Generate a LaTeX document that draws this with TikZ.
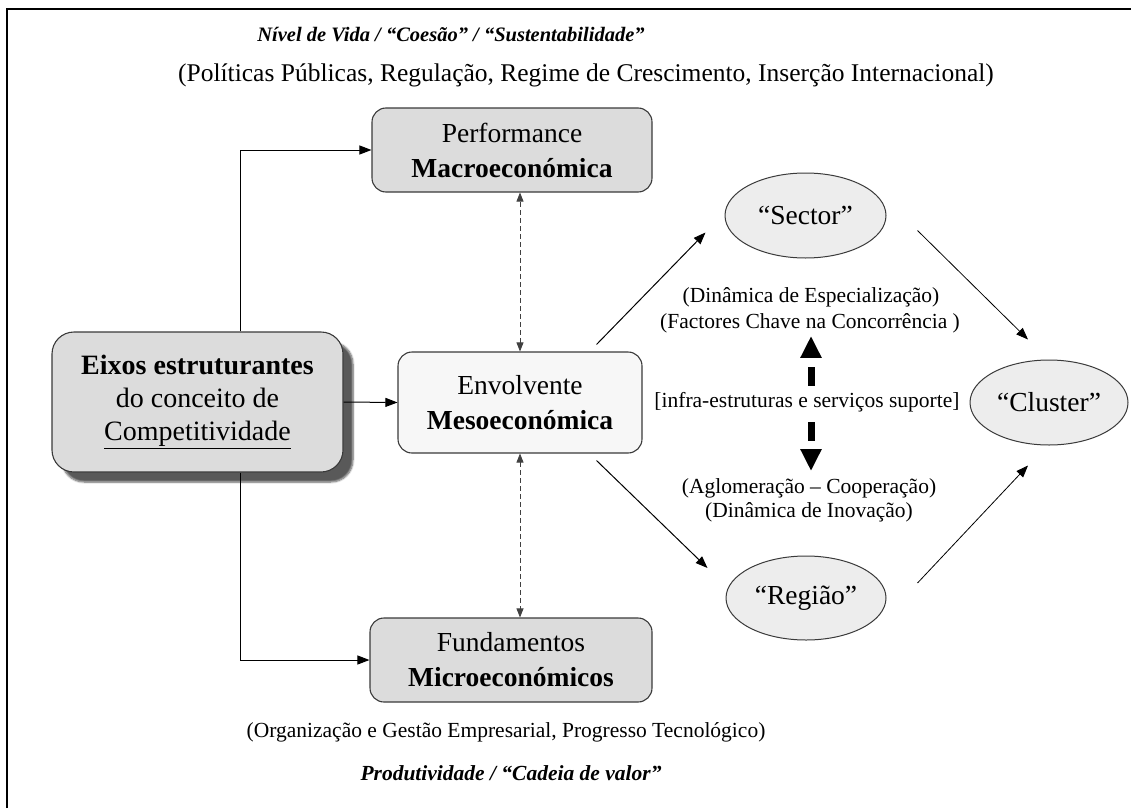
\documentclass[tikz,border=0pt]{standalone}
\usepackage{fontspec}
\setmainfont{Liberation Serif}
\usetikzlibrary{arrows.meta,shapes.geometric,shadows.blur}

\definecolor{boxgray}{HTML}{DCDCDC}
\definecolor{palegray}{HTML}{F7F7F7}
\definecolor{ovalgray}{HTML}{EDEDED}
\definecolor{edgegray}{HTML}{3A3A3A}

\tikzset{
  bigtext/.style={font=\fontsize{27.5}{35}\selectfont},
  smalltext/.style={font=\fontsize{21.5}{26}\selectfont, inner sep=0pt},
  headtext/.style={font=\fontsize{20.5}{26}\bfseries\itshape\selectfont, inner sep=0pt},
  panel/.style={draw=edgegray, line width=1.1pt, rounded corners=14pt, align=center,
    inner sep=0pt, bigtext},
  oval/.style={ellipse, draw=edgegray, line width=1pt, fill=ovalgray, inner sep=0pt, bigtext},
  link/.style={-{Triangle[length=12pt,width=9pt]}, line width=1pt},
  thinlink/.style={-{Triangle[length=12pt,width=9pt]}, line width=0.8pt},
  dashlink/.style={{Triangle[length=9pt,width=7pt]}-{Triangle[length=9pt,width=7pt]},
    line width=0.8pt, draw=black!75, dash pattern=on 5pt off 3pt},
  fatlink/.style={-{Triangle[length=22pt,width=20pt]}, line width=7pt,
    dash pattern=on 19pt off 30pt},
}

\begin{document}
\begin{tikzpicture}[x=1pt,y=-1pt]
\useasboundingbox (0,0) rectangle (1131,808);

% frame along the top and left edges
\draw[line width=2.4pt, line join=miter] (7,808) -- (7,9) -- (1131,9);

% headings
\node[headtext] (vida) at (451,35) {Nível de Vida / “Coesão” / “Sustentabilidade”};
\node[smalltext, font=\fontsize{25.5}{30}\selectfont] (politicas) at (586,75)
  {(Políticas Públicas, Regulação, Regime de Crescimento, Inserção Internacional)};

% central column
\node[panel, fill=boxgray, minimum width=291pt, minimum height=140pt, rounded corners=22pt,
      font=\fontsize{28}{33}\selectfont,
      blur shadow={shadow xshift=10pt, shadow yshift=-10pt, shadow opacity=65, shadow blur steps=6}]
  (eixos) at (197.5,402)
  {\textbf{Eixos estruturantes}\\do conceito de\\\underline{Competitividade}};
\node[panel, fill=boxgray, minimum width=280pt, minimum height=84pt] (perf) at (512,150)
  {Performance\\\textbf{Macroeconómica}};
\node[panel, fill=palegray, minimum width=244pt, minimum height=101pt] (env) at (520,402.5)
  {Envolvente\\\textbf{Mesoeconómica}};
\node[panel, fill=boxgray, minimum width=282pt, minimum height=84pt] (fund) at (511,660)
  {Fundamentos\\\textbf{Microeconómicos}};

% footer texts
\node[smalltext] (org) at (506,732)
  {(Organização e Gestão Empresarial, Progresso Tecnológico)};
\node[headtext, font=\fontsize{21.5}{26}\bfseries\itshape\selectfont] (prod) at (511,773)
  {Produtividade / “Cadeia de valor”};

% ovals
\node[oval, minimum width=161pt, minimum height=85pt] (sector) at (805.5,215.5) {“Sector”};
\node[oval, minimum width=158pt, minimum height=85pt] (cluster) at (1049,402.5) {“Cluster”};
\node[oval, minimum width=160pt, minimum height=84pt] (regiao) at (806,598) {“Região”};

% middle texts
\node[smalltext] (espec) at (811,297) {(Dinâmica de Especialização)};
\node[smalltext] (fact) at (810,323) {(Factores Chave na Concorrência )};
\node[smalltext] (infra) at (807,402) {[infra-estruturas e serviços suporte]};
\node[smalltext] (aglom) at (809,488) {(Aglomeração – Cooperação)};
\node[smalltext] (inov) at (809,512) {(Dinâmica de Inovação)};

% trunk from the left box
\coordinate (trunk) at (240,402);
\draw[link] (eixos.north -| trunk) |- (perf.west);
\draw[link] (eixos.south -| trunk) |- (fund.west);
\draw[link] (eixos.east) -- (env.west);

% dashed links along the column
\draw[dashlink] (env.north) -- (env.north |- perf.south);
\draw[dashlink] (env.south) -- (env.south |- fund.north);

% links towards the ovals
\draw[link] ([shift={(-46,-7)}]env.north east) -- ([shift={(-19,17)}]sector.west);
\draw[link] ([shift={(-46,7)}]env.south east) -- ([shift={(-18,-30)}]regiao.west);
\draw[thinlink] ([shift={(31,15)}]sector.east) -- ([shift={(-21,-20)}]cluster.north);
\draw[thinlink] ([shift={(31,-15)}]regiao.east) -- ([shift={(-21,20)}]cluster.south);

% heavy arrows around the support label
\draw[fatlink] ([shift={(4,-6)}]infra.north) -- ([shift={(1,3)}]fact.south);
\draw[fatlink] ([shift={(4,10)}]infra.south) -- ([shift={(2,-7)}]aglom.north);
\end{tikzpicture}
\end{document}
